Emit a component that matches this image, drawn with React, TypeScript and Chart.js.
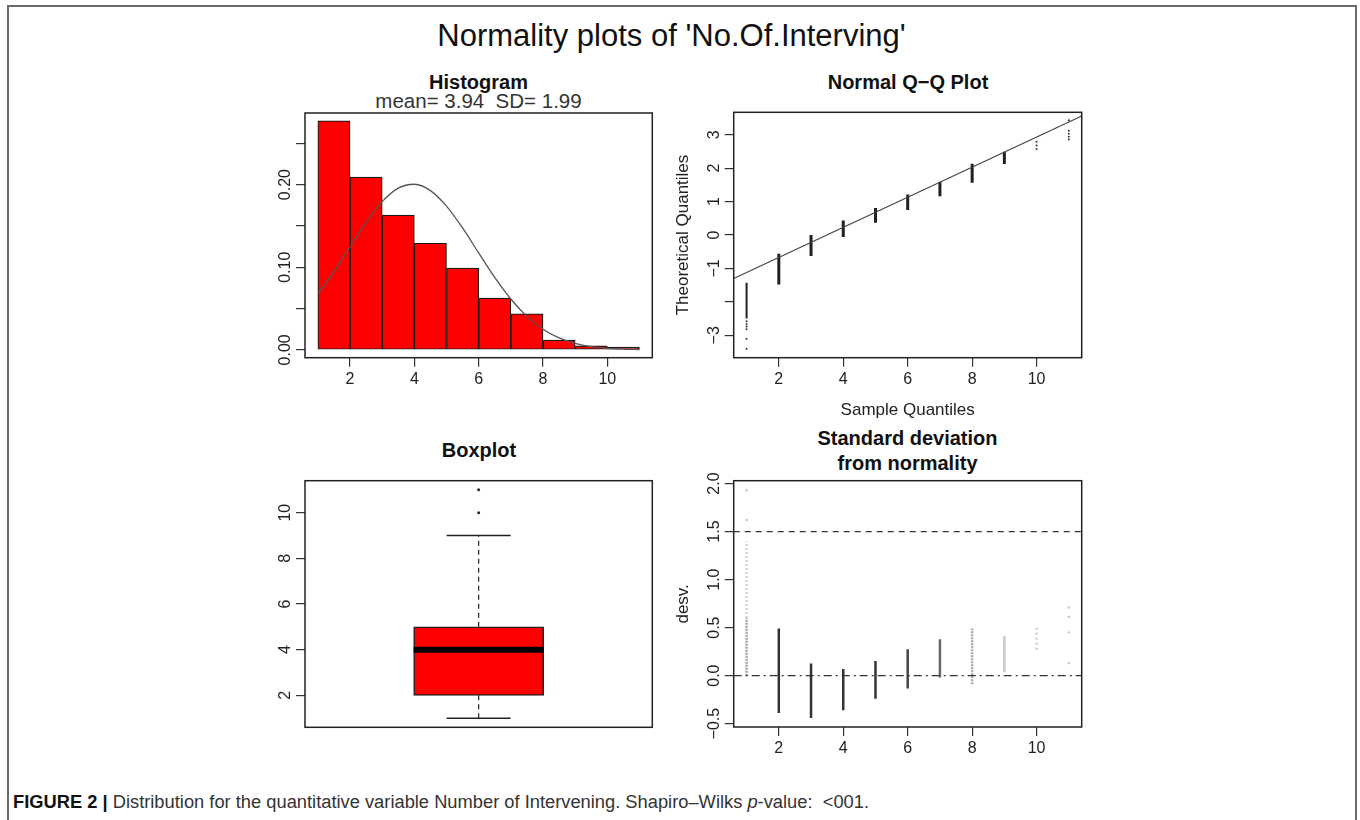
import React, { useEffect, useLayoutEffect, useRef } from 'react';
import { Chart, registerables } from 'chart.js';
Chart.register(...registerables);

const FONT = '"Liberation Sans", Arial, Helvetica, sans-serif';

// ---------------- data ----------------
// Histogram (density per unit bin)
const HIST_BIN_START = [1, 2, 3, 4, 5, 6, 7, 8, 9, 10];
const HIST_BIN_END = [2, 3, 4, 5, 6, 7, 8, 9, 10, 11];
const HIST_DENSITY = [0.277, 0.209, 0.163, 0.129, 0.099, 0.0625, 0.0435, 0.0117, 0.0048, 0.0032];
const HIST_MEAN_TEXT = '3.94';
const HIST_SD_TEXT = '1.99';
const CURVE_X = [1, 1.5, 2, 2.5, 3, 3.5, 4, 4.5, 5, 5.5, 6, 6.5, 7, 7.5, 8, 8.5, 9, 9.5, 10, 10.5, 11];
const CURVE_Y = [0.0673, 0.0946, 0.1247, 0.1543, 0.1793, 0.1957, 0.2004, 0.1927, 0.174, 0.1475, 0.1173, 0.0876, 0.0615, 0.0405, 0.025, 0.0145, 0.0079, 0.004, 0.0019, 0.0009, 0.0004];
const HIST_X_TICKS = [2, 4, 6, 8, 10];
const HIST_Y_TICKS = [0, 0.05, 0.1, 0.15, 0.2, 0.25];
const HIST_Y_LABELS = ['0.00', '', '0.10', '', '0.20', ''];

// Normal Q-Q plot
const QQ_SEG_X = [1, 2, 3, 4, 5, 6, 7, 8, 9];
const QQ_SEG_LOW = [-2.5, -1.48, -0.63, -0.06, 0.37, 0.75, 1.16, 1.56, 2.12];
const QQ_SEG_HIGH = [-1.43, -0.56, 0.0, 0.43, 0.81, 1.21, 1.59, 2.13, 2.49];
const QQ_DOT_X = [1, 1, 1, 1, 1, 1, 10, 10, 10, 11, 11, 11, 11, 11];
const QQ_DOT_Y = [-2.58, -2.66, -2.74, -2.82, -3.1, -3.4, 2.57, 2.68, 2.79, 2.86, 2.94, 3.03, 3.12, 3.43];
const QQ_LINE_X = [0.6, 11.4];
const QQ_LINE_Y = [-1.3, 3.56];
const QQ_X_TICKS = [2, 4, 6, 8, 10];
const QQ_Y_TICKS = [-3, -2, -1, 0, 1, 2, 3];
const QQ_Y_LABELS = ['\u22123', '', '\u22121', '0', '1', '2', '3'];

// Boxplot
const BOX_MIN = 1;
const BOX_Q1 = 2;
const BOX_MEDIAN = 4;
const BOX_Q3 = 5;
const BOX_MAX = 9;
const BOX_OUTLIERS = [10, 11];
const BOX_Y_TICKS = [2, 4, 6, 8, 10];
const BOX_Y_LABELS = ['2', '4', '6', '8', '10'];

// Standard deviation from normality
const SD_SEG_X = [1, 1, 2, 3, 4, 5, 6, 7, 8, 9, 10];
const SD_SEG_LOW = [0.0, 0.6, -0.39, -0.44, -0.36, -0.24, -0.135, -0.02, -0.09, 0.035, 0.27];
const SD_SEG_HIGH = [0.6, 1.4, 0.49, 0.125, 0.07, 0.153, 0.275, 0.38, 0.49, 0.41, 0.51];
const SD_DOT_X = [1, 1, 11, 11, 11, 11];
const SD_DOT_Y = [1.62, 1.93, 0.13, 0.45, 0.61, 0.71];
const SD_LIMIT = 1.5;
const SD_ZERO = 0;
const SD_X_TICKS = [2, 4, 6, 8, 10];
const SD_Y_TICKS = [-0.5, 0, 0.5, 1, 1.5, 2];
const SD_Y_LABELS = ['\u22120.5', '0.0', '0.5', '1.0', '1.5', '2.0'];

// ---------------- styles ----------------
const SD_SEG_COLOR = ['#a6a6a6', '#d6d6d6', '#333', '#333', '#333', '#333', '#444', '#666', '#ababab', '#c8c8c8', '#d0d0d0'];
const SD_SEG_DASH: number[][] = [[2, 1], [2, 2], [], [], [], [], [], [], [2, 1], [], [2, 3]];
const X_RANGE = [0.6, 11.4];

type Area = { l: number; t: number; r: number; b: number };
type Rect = { left: number; top: number; width: number; height: number };

function rPlugin(cfg: { yTicks: number[]; yLabels: string[]; yTitle?: string; xTitle?: string }) {
  return {
    id: 'rAxis',
    afterDraw(chart: any) {
      const { ctx, chartArea: a } = chart;
      const ys = chart.scales.y;
      ctx.save();
      ctx.strokeStyle = '#222';
      ctx.lineWidth = 1.5;
      ctx.strokeRect(a.left, a.top, a.right - a.left, a.bottom - a.top);
      ctx.fillStyle = '#222';
      ctx.textAlign = 'center';
      ctx.textBaseline = 'middle';
      ctx.font = `16px ${FONT}`;
      cfg.yTicks.forEach((v, i) => {
        const t = cfg.yLabels[i];
        if (!t) return;
        const py = ys.getPixelForValue(v);
        ctx.save();
        ctx.translate(a.left - 19, py);
        ctx.rotate(-Math.PI / 2);
        ctx.fillText(t, 0, 0);
        ctx.restore();
      });
      ctx.font = `17px ${FONT}`;
      if (cfg.yTitle) {
        ctx.save();
        ctx.translate(a.left - 50.5, (a.top + a.bottom) / 2);
        ctx.rotate(-Math.PI / 2);
        ctx.fillText(cfg.yTitle, 0, 0);
        ctx.restore();
      }
      if (cfg.xTitle) {
        ctx.textBaseline = 'alphabetic';
        ctx.fillText(cfg.xTitle, (a.left + a.right) / 2, a.bottom + 57.3);
      }
      ctx.restore();
    },
  };
}

const gridOpts = { offset: false, drawOnChartArea: false, drawTicks: true, tickLength: 9, color: '#333', lineWidth: 1.2 };

function axisX(ticks: number[] | null, xh: number, range = X_RANGE) {
  return {
    type: 'linear',
    position: 'bottom',
    min: range[0],
    max: range[1],
    offset: false,
    display: ticks !== null,
    afterBuildTicks: (s: any) => {
      if (ticks) s.ticks = ticks.map((v) => ({ value: v }));
    },
    afterFit: (s: any) => {
      s.height = xh;
    },
    ticks: {
      autoSkip: false,
      maxRotation: 0,
      minRotation: 0,
      padding: 3,
      color: '#222',
      font: { family: FONT, size: 16 },
      callback: (v: any) => String(v),
    },
    grid: gridOpts,
    border: { display: false },
  };
}

function axisY(min: number, max: number, ticks: number[], yw: number) {
  return {
    type: 'linear',
    position: 'left',
    min,
    max,
    afterBuildTicks: (s: any) => {
      s.ticks = ticks.map((v) => ({ value: v }));
    },
    afterFit: (s: any) => {
      s.width = yw;
    },
    ticks: { display: false },
    grid: gridOpts,
    border: { display: false },
  };
}

function baseOptions(rect: Rect, area: Area, xh: number) {
  return {
    responsive: false,
    animation: false,
    events: [],
    layout: {
      autoPadding: false,
      padding: {
        left: 0,
        top: area.t - rect.top,
        right: rect.left + rect.width - area.r,
        bottom: rect.top + rect.height - area.b - xh,
      },
    },
    plugins: { legend: { display: false }, tooltip: { enabled: false }, title: { display: false } },
  };
}

// ---------------- chart builders ----------------
const HIST_RECT: Rect = { left: 225, top: 105, width: 445, height: 300 };
const HIST_AREA: Area = { l: 305, t: 113, r: 652.3, b: 357.7 };
const QQ_RECT: Rect = { left: 655, top: 105, width: 445, height: 320 };
const QQ_AREA: Area = { l: 733.7, t: 112.3, r: 1081.7, b: 357.7 };
const BOX_RECT: Rect = { left: 225, top: 470, width: 445, height: 270 };
const BOX_AREA: Area = { l: 305, t: 480.7, r: 652.3, b: 727.3 };
const SD_RECT: Rect = { left: 655, top: 470, width: 445, height: 300 };
const SD_AREA: Area = { l: 733.7, t: 480.7, r: 1081.7, b: 727 };

function buildHist() {
  const xh = 40;
  const opts: any = baseOptions(HIST_RECT, HIST_AREA, xh);
  opts.scales = {
    x: axisX(HIST_X_TICKS, xh),
    y: axisY(-0.0095, 0.2866, HIST_Y_TICKS, HIST_AREA.l - HIST_RECT.left),
  };
  return {
    type: 'bar',
    data: {
      datasets: [
        {
          type: 'line',
          data: CURVE_X.map((x, i) => ({ x, y: CURVE_Y[i] })),
          borderColor: '#555',
          borderWidth: 1.3,
          pointRadius: 0,
          cubicInterpolationMode: 'monotone',
          order: 0,
        },
        {
          type: 'bar',
          data: HIST_BIN_START.map((s, i) => ({ x: (s + HIST_BIN_END[i]) / 2, y: HIST_DENSITY[i] })),
          backgroundColor: '#ff0000',
          borderColor: '#1a1a1a',
          borderWidth: 1.2,
          borderSkipped: false,
          barPercentage: 1,
          categoryPercentage: 1,
          order: 1,
        },
      ],
    },
    options: opts,
    plugins: [rPlugin({ yTicks: HIST_Y_TICKS, yLabels: HIST_Y_LABELS })],
  };
}

function segData(xs: number[], lo: number[], hi: number[]) {
  const out: any[] = [];
  xs.forEach((x, i) => {
    out.push({ x, y: lo[i] }, { x, y: hi[i] }, { x, y: null });
  });
  return out;
}

function buildQQ() {
  const xh = 40;
  const opts: any = baseOptions(QQ_RECT, QQ_AREA, xh);
  opts.scales = {
    x: axisX(QQ_X_TICKS, xh),
    y: axisY(-3.67, 3.67, QQ_Y_TICKS, QQ_AREA.l - QQ_RECT.left),
  };
  return {
    type: 'scatter',
    data: {
      datasets: [
        {
          type: 'line',
          data: QQ_LINE_X.map((x, i) => ({ x, y: QQ_LINE_Y[i] })),
          borderColor: '#444',
          borderWidth: 1.2,
          pointRadius: 0,
        },
        {
          type: 'line',
          data: segData(QQ_SEG_X.slice(0, 1), QQ_SEG_LOW.slice(0, 1), QQ_SEG_HIGH.slice(0, 1)),
          borderColor: '#1c2418',
          borderWidth: 2,
          pointRadius: 0,
          spanGaps: false,
        },
        {
          type: 'line',
          data: segData(QQ_SEG_X.slice(1), QQ_SEG_LOW.slice(1), QQ_SEG_HIGH.slice(1)),
          borderColor: '#1c2418',
          borderWidth: 3,
          pointRadius: 0,
          spanGaps: false,
        },
        {
          type: 'scatter',
          data: QQ_DOT_X.map((x, i) => ({ x, y: QQ_DOT_Y[i] })),
          pointRadius: 1,
          pointBorderWidth: 0,
          backgroundColor: '#333',
        },
      ],
    },
    options: opts,
    plugins: [rPlugin({ yTicks: QQ_Y_TICKS, yLabels: QQ_Y_LABELS, yTitle: 'Theoretical Quantiles', xTitle: 'Sample Quantiles' })],
  };
}

function buildBox() {
  const xh = 0;
  const opts: any = baseOptions(BOX_RECT, BOX_AREA, xh);
  opts.scales = {
    x: axisX(null, xh, [0.5, 1.5]),
    y: axisY(0.6, 11.4, BOX_Y_TICKS, BOX_AREA.l - BOX_RECT.left),
  };
  return {
    type: 'bar',
    data: {
      datasets: [
        {
          type: 'scatter',
          data: [{ x: 1, y: BOX_MEDIAN }],
          pointStyle: 'line',
          pointRadius: 65,
          pointBorderWidth: 6,
          borderColor: '#000',
          order: 0,
        },
        {
          type: 'bar',
          data: [{ x: 1, y: [BOX_Q1, BOX_Q3] }],
          backgroundColor: '#ff0000',
          borderColor: '#222',
          borderWidth: 1.5,
          borderSkipped: false,
          barThickness: 130,
          order: 1,
        },
        {
          type: 'line',
          data: [{ x: 1, y: BOX_Q3 }, { x: 1, y: BOX_MAX }, { x: 1, y: null }, { x: 1, y: BOX_Q1 }, { x: 1, y: BOX_MIN }],
          borderColor: '#222',
          borderWidth: 1.2,
          borderDash: [5, 4],
          pointRadius: 0,
          spanGaps: false,
          order: 2,
        },
        {
          type: 'scatter',
          data: [{ x: 1, y: BOX_MIN }, { x: 1, y: BOX_MAX }],
          pointStyle: 'line',
          pointRadius: 32,
          pointBorderWidth: 1.5,
          borderColor: '#222',
          order: 2,
        },
        {
          type: 'scatter',
          data: BOX_OUTLIERS.map((y) => ({ x: 1, y })),
          pointRadius: 1.5,
          pointBorderWidth: 0,
          backgroundColor: '#222',
          order: 2,
        },
      ],
    },
    options: opts,
    plugins: [rPlugin({ yTicks: BOX_Y_TICKS, yLabels: BOX_Y_LABELS })],
  };
}

function buildSD() {
  const xh = 40;
  const opts: any = baseOptions(SD_RECT, SD_AREA, xh);
  opts.scales = {
    x: axisX(SD_X_TICKS, xh),
    y: axisY(-0.535, 2.03, SD_Y_TICKS, SD_AREA.l - SD_RECT.left),
  };
  const segs = SD_SEG_X.map((x, i) => ({
    type: 'line',
    data: [{ x, y: SD_SEG_LOW[i] }, { x, y: SD_SEG_HIGH[i] }],
    borderColor: SD_SEG_COLOR[i],
    borderDash: SD_SEG_DASH[i],
    borderWidth: 2.5,
    pointRadius: 0,
  }));
  return {
    type: 'scatter',
    data: {
      datasets: [
        {
          type: 'line',
          data: X_RANGE.map((x) => ({ x, y: SD_LIMIT })),
          borderColor: '#333',
          borderWidth: 1.2,
          borderDash: [6, 5],
          pointRadius: 0,
        },
        {
          type: 'line',
          data: X_RANGE.map((x) => ({ x, y: SD_ZERO })),
          borderColor: '#333',
          borderWidth: 1.2,
          borderDash: [8, 4, 2, 4],
          pointRadius: 0,
        },
        ...segs,
        {
          type: 'scatter',
          data: SD_DOT_X.map((x, i) => ({ x, y: SD_DOT_Y[i] })),
          pointRadius: 1.2,
          pointBorderWidth: 0,
          backgroundColor: '#c4c4c4',
        },
      ],
    },
    options: opts,
    plugins: [rPlugin({ yTicks: SD_Y_TICKS, yLabels: SD_Y_LABELS, yTitle: 'desv.' })],
  };
}

function ChartPanel({ rect, build }: { rect: Rect; build: () => any }) {
  const ref = useRef<HTMLCanvasElement>(null);
  useEffect(() => {
    const chart = new Chart(ref.current as HTMLCanvasElement, build());
    return () => chart.destroy();
  }, []);
  return (
    <canvas
      ref={ref}
      width={rect.width}
      height={rect.height}
      style={{ position: 'absolute', left: rect.left, top: rect.top, width: rect.width, height: rect.height }}
    />
  );
}

function Txt({ x, y, size, bold, color = '#111', children }: any) {
  return (
    <div
      style={{
        position: 'absolute',
        left: x,
        top: y - 0.8465 * size,
        transform: 'translateX(-50%)',
        fontFamily: FONT,
        fontSize: size,
        fontWeight: bold ? 'bold' : 'normal',
        lineHeight: `${size}px`,
        whiteSpace: 'pre',
        color,
      }}
    >
      {children}
    </div>
  );
}

function Caption() {
  const ref = useRef<HTMLDivElement>(null);
  useLayoutEffect(() => {
    const el = ref.current;
    if (!el) return;
    const w = el.getBoundingClientRect().width;
    if (w > 0) el.style.transform = `scaleX(${856 / w})`;
  }, []);
  const size = 18;
  return (
    <div
      ref={ref}
      style={{
        position: 'absolute',
        left: 13,
        top: 808 - 0.8465 * size,
        fontFamily: FONT,
        fontSize: size,
        lineHeight: `${size}px`,
        whiteSpace: 'pre',
        color: '#333',
        transformOrigin: '0 0',
      }}
    >
      <b style={{ color: '#111' }}>FIGURE 2 |</b> Distribution for the quantitative variable Number of Intervening.
      Shapiro–Wilks <i>p</i>-value:  &lt;001.
    </div>
  );
}

export default function App() {
  return (
    <div style={{ position: 'fixed', left: 0, top: 0, width: 1360, height: 820, overflow: 'hidden', background: '#fff' }}>
      <div
        style={{
          position: 'absolute',
          left: 7,
          top: 5,
          width: 1350,
          height: 840,
          boxSizing: 'border-box',
          border: '2px solid #6a6a6a',
        }}
      />
      <Txt x={671.5} y={46} size={31}>
        Normality plots of 'No.Of.Interving'
      </Txt>
      <Txt x={478.5} y={89.3} size={20} bold>
        Histogram
      </Txt>
      <Txt x={478.5} y={108.3} size={20.5} color="#333">
        {`mean= ${HIST_MEAN_TEXT}  SD= ${HIST_SD_TEXT}`}
      </Txt>
      <Txt x={908} y={89.3} size={20} bold>
        Normal Q{'\u2212'}Q Plot
      </Txt>
      <Txt x={479} y={456.7} size={20} bold>
        Boxplot
      </Txt>
      <Txt x={907.5} y={445} size={20} bold>
        Standard deviation
      </Txt>
      <Txt x={907.5} y={470} size={20} bold>
        from normality
      </Txt>
      <ChartPanel rect={HIST_RECT} build={buildHist} />
      <ChartPanel rect={QQ_RECT} build={buildQQ} />
      <ChartPanel rect={BOX_RECT} build={buildBox} />
      <ChartPanel rect={SD_RECT} build={buildSD} />
      <Caption />
    </div>
  );
}
